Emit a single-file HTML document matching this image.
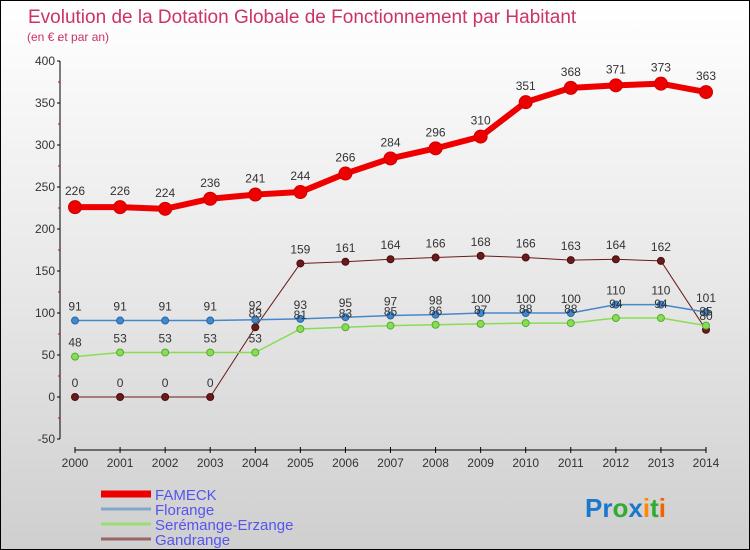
<!DOCTYPE html>
<html><head><meta charset="utf-8"><style>
body{margin:0}
#wrap{position:relative;width:748px;height:548px;border:1px solid #000;background:linear-gradient(#ffffff 0%,#e6e6e6 55%,#cfcfcf 100%);overflow:hidden;font-family:"Liberation Sans",sans-serif}
svg text{font-family:"Liberation Sans",sans-serif}
</style></head><body>
<div id="wrap">
<svg id="c" width="748" height="548"></svg>
</div>
<script>
const years=[2000,2001,2002,2003,2004,2005,2006,2007,2008,2009,2010,2011,2012,2013,2014];
const fameck=[226,226,224,236,241,244,266,284,296,310,351,368,371,373,363];
const florange=[91,91,91,91,92,93,95,97,98,100,100,100,110,110,101];
const seremange=[48,53,53,53,53,81,83,85,86,87,88,88,94,94,85];
const gandrange=[0,0,0,0,83,159,161,164,166,168,166,163,164,162,80];
const yTicks=[-50,0,50,100,150,200,250,300,350,400];
const seriesNames=["FAMECK","Florange","Serémange-Erzange","Gandrange"];

const NS="http://www.w3.org/2000/svg";
const svg=document.getElementById('c');
function X(i){return 74+i*(705-74)/(years.length-1);}
function Y(v){return 396-v*0.84;}
function el(t,a,txt){const e=document.createElementNS(NS,t);for(const k in a)e.setAttribute(k,a[k]);if(txt!==undefined)e.textContent=txt;svg.appendChild(e);return e;}

let t=el('text',{x:27,y:22,'font-size':19,fill:'#cc3366'},'Evolution de la Dotation Globale de Fonctionnement par Habitant');


t=el('text',{x:26,y:40,'font-size':12,fill:'#cc3366'},'(en € et par an)');



let a=el('line',{x1:59,y1:Y(400),x2:59,y2:Y(-50),stroke:'#000','stroke-width':1});


yTicks.forEach(v=>{
  el('line',{x1:56,y1:Y(v),x2:59,y2:Y(v),stroke:'#000'});
  let tx=el('text',{x:54,y:Y(v)+4,'font-size':12,fill:'#333','text-anchor':'end'},v);
  
  
  el('line',{x1:57,y1:Y(v+25),x2:59,y2:Y(v+25),stroke:'#d00'});
});
a=el('line',{x1:X(0),y1:449,x2:X(years.length-1),y2:449,stroke:'#000','stroke-width':1});


years.forEach((y,i)=>{
  el('line',{x1:X(i),y1:446,x2:X(i),y2:452,stroke:'#000'});
  let tx=el('text',{x:X(i),y:466,'font-size':12,fill:'#333','text-anchor':'middle'},y);
  
  
});

function series(data,color,w,r,name,dotStroke){
  const pts=data.map((v,i)=>X(i)+','+Y(v)).join(' ');
  let p=el('polyline',{points:pts,fill:'none',stroke:color,'stroke-width':w,'stroke-linejoin':'round'});
  
  
  data.forEach((v,i)=>{
    let c=el('circle',{cx:X(i),cy:Y(v),r:r,fill:color,stroke:dotStroke,'stroke-width':1});
    
    
  });
}
function labels(data,name,dy){
  data.forEach((v,i)=>{
    let tx=el('text',{x:X(i),y:Y(v)-dy,'font-size':12,fill:'#333','text-anchor':'middle'},v);
    
    
  });
}
series(gandrange,'#6b1a1a',1,3.5,'gandrange','#4a0e0e');
series(seremange,'#88dd55',1.5,3.5,'seremange','#55aa33');
series(florange,'#4488cc',1.5,3.5,'florange','#2266aa');
series(fameck,'#ee0000',6,6.5,'fameck','#cc0000');
labels(gandrange,'gandrange',10);
labels(seremange,'seremange',10);
labels(florange,'florange',10);
labels(fameck,'fameck',12);

const lc=['#ee0000','#7fa8cc','#99dd77','#996666'];
const lw=[7,3,3,3];
seriesNames.forEach((n,i)=>{
  const y=493+i*15;
  let l=el('line',{x1:100,y1:y,x2:150,y2:y,stroke:lc[i],'stroke-width':lw[i]});
  
  
  let tx=el('text',{x:154,y:y+6,'font-size':15,fill:'#5555ee'},n);
  
  
});
const logo=el('text',{x:584,y:516,'font-size':26,'font-weight':'bold'});


[['P','#1a77cc'],['r','#1a77cc'],['o','#33aa33'],['x','#1a77cc'],['i','#ff8800'],['t','#33aa33'],['i','#ee6600']].forEach(([c,f])=>{
  const s=document.createElementNS(NS,'tspan');s.setAttribute('fill',f);s.textContent=c;logo.appendChild(s);
});
</script>
</body></html>
